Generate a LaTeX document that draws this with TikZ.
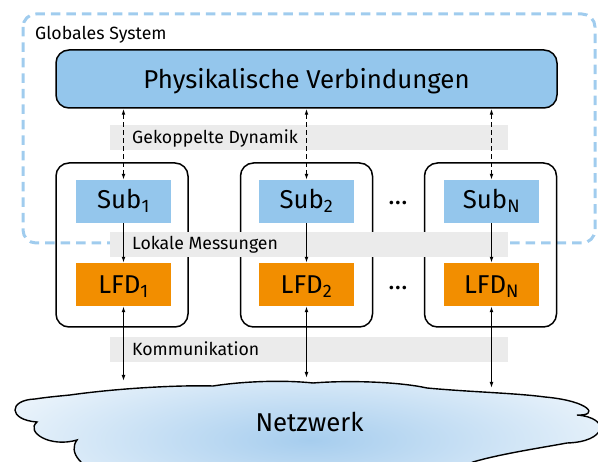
\documentclass[tikz,border=0pt]{standalone}
\usepackage{fontspec}
\setmainfont{Fira Sans}
\usetikzlibrary{arrows.meta}
\definecolor{lblue}{RGB}{148,198,236}
\definecolor{dashblue}{RGB}{160,204,238}
\definecolor{lfdorange}{RGB}{242,142,0}
\definecolor{bandgray}{RGB}{235,235,235}
\definecolor{cloudblue}{RGB}{166,205,238}
\begin{document}
\begin{tikzpicture}[x=1pt,y=-1pt,
  every node/.style={inner sep=0pt},
  lbl/.style={font=\fontsize{17.7}{20}\selectfont, anchor=base west},
  big/.style={font=\fontsize{25.8}{30}\selectfont},
  physbox/.style={big, draw, line width=1.5pt, fill=lblue, rounded corners=13pt,
    minimum width=501pt, minimum height=58pt, text height=20pt, text depth=0pt},
  subbox/.style={big, fill=lblue, minimum width=95pt, minimum height=43pt,
    text height=18pt, text depth=4pt},
  lfdbox/.style={big, fill=lfdorange, minimum width=95pt, minimum height=43pt,
    text height=18pt, text depth=0pt},
  colbox/.style={draw, line width=1.5pt, rounded corners=13pt,
    minimum width=132pt, minimum height=164pt},
  band/.style={fill=bandgray, minimum width=398pt, minimum height=25pt},
  dotsnode/.style={font=\fontsize{26}{26}\selectfont},
  dashbox/.style={draw=dashblue, line width=3pt, dash pattern=on 9.5pt off 6pt,
    rounded corners=13pt},
  arr/.style={line width=1.1pt, -{Latex[length=6pt,width=3.8pt]}},
  dblarr/.style={line width=1.1pt, {Latex[length=6pt,width=3.8pt]}-{Latex[length=6pt,width=3.8pt]}},
  dasharr/.style={dblarr, dash pattern=on 5pt off 3pt},
  cloudline/.style={draw, line width=1.4pt}
]
\useasboundingbox (0,0) rectangle (598,462);
\clip (0,0) rectangle (598,462);

% global system frame
\draw[dashbox] (23,14) rectangle (595,243);
\node[lbl] (glob) at (35,40) {Globales System};

% column frames
\node[colbox] (c1) at (122,245) {};
\node[colbox] (c2) at (306.5,245) {};
\node[colbox] (c3) at (490.5,245) {};

% grey label bands
\node[band] (b1) at (309,137.5) {};
\node[band] (b2) at (309,244.5) {};
\node[band] (b3) at (309,349.5) {};

% physical connections
\node[physbox] (phys) at (306.5,79) {Physikalische Verbindungen};

% subsystems and LFDs
\node[subbox] (s1) at (123.5,201.5) {Sub\textsubscript{1}};
\node[subbox] (s2) at (306.5,201.5) {Sub\textsubscript{2}};
\node[subbox] (s3) at (491.5,201.5) {Sub\textsubscript{N}};
\node[lfdbox] (f1) at (123.5,284.5) {LFD\textsubscript{1}};
\node[lfdbox] (f2) at (306.5,284.5) {LFD\textsubscript{2}};
\node[lfdbox] (f3) at (491.5,284.5) {LFD\textsubscript{N}};
\node[dotsnode] (d1) at (398,203) {…};
\node[dotsnode] (d2) at (398,288) {…};

% cloud
\def\cloudpath{(110,478) .. controls (80,468) and (68,452) .. (77,440)
  .. controls (50,448) and (25,432) .. (37,422)
  .. controls (8,420) and (8,400) .. (35,399)
  .. controls (48,397) and (60,396) .. (70,395)
  .. controls (120,388) and (180,385) .. (213,386)
  .. controls (245,381) and (285,380) .. (313,383)
  .. controls (350,380) and (400,382) .. (427,388)
  .. controls (470,392) and (515,393) .. (545,397)
  .. controls (590,401) and (600,416) .. (577,415)
  .. controls (612,418) and (606,442) .. (567,443)
  .. controls (540,448) and (500,454) .. (473,462)
  .. controls (460,468) and (450,475) .. (445,480)
  -- (445,495) -- (110,495) -- cycle}
\fill[white] \cloudpath;
\begin{scope}
  \clip \cloudpath;
  \shade[inner color=cloudblue, outer color=white] (310,440) ellipse (420 and 110);
\end{scope}
\draw[cloudline] \cloudpath;
\node[big, anchor=base] (netz) at (309.5,432) {Netzwerk};

\coordinate (n1) at (123.5,381);
\coordinate (n2) at (306.5,378);
\coordinate (n3) at (491.5,388);

% connectors
\draw[dasharr] (phys.south -| s1) -- (s1.north);
\draw[dasharr] (phys.south -| s2) -- (s2.north);
\draw[dasharr] (phys.south -| s3) -- (s3.north);
\draw[arr] (s1.south) -- (f1.north);
\draw[arr] (s2.south) -- (f2.north);
\draw[arr] (s3.south) -- (f3.north);
\draw[dblarr] (f1.south) -- (n1);
\draw[dblarr] (f2.south) -- (n2);
\draw[dblarr] (f3.south) -- (n3);

% band labels
\node[lbl] (t1) at (132,144) {Gekoppelte Dynamik};
\node[lbl] (t2) at (132,250) {Lokale Messungen};
\node[lbl] (t3) at (132,355.5) {Kommunikation};
\end{tikzpicture}
\end{document}
